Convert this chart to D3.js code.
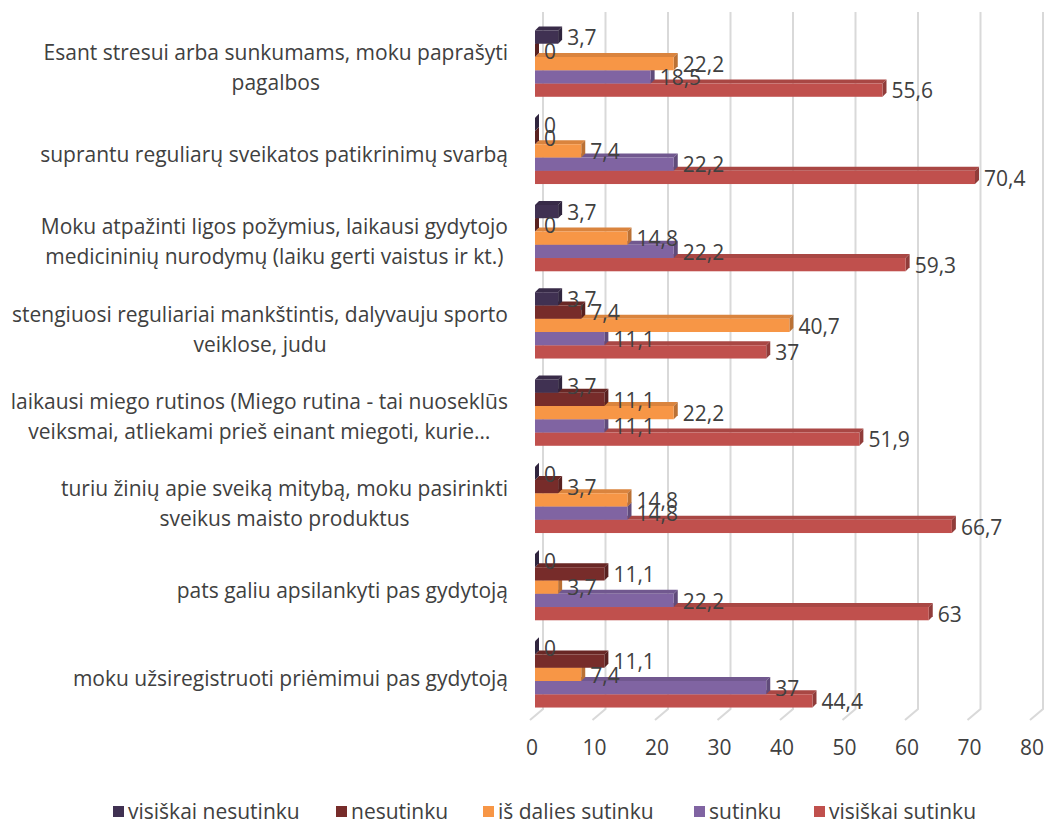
<!DOCTYPE html>
<html>
<head>
<meta charset="utf-8">
<script src="https://cdn.jsdelivr.net/npm/d3@7"></script>
<style>
  body { margin: 0; background: #fff; }
  text { font-family: "Open Sans", sans-serif; fill: #404040; }
</style>
</head>
<body>
<div id="chart"></div>
<script>
// categories, top to bottom (each entry = wrapped lines)
const categories = [
    ["Esant stresui arba sunkumams, moku paprašyti", "pagalbos"],
    ["suprantu reguliarų sveikatos patikrinimų svarbą"],
    ["Moku atpažinti ligos požymius, laikausi gydytojo", "medicininių nurodymų (laiku gerti vaistus ir kt.)"],
    ["stengiuosi reguliariai mankštintis, dalyvauju sporto", "veiklose, judu"],
    ["laikausi miego rutinos (Miego rutina - tai nuoseklūs", "veiksmai, atliekami prieš einant miegoti, kurie…"],
    ["turiu žinių apie sveiką mitybą, moku pasirinkti", "sveikus maisto produktus"],
    ["pats galiu apsilankyti pas gydytoją"],
    ["moku užsiregistruoti priėmimui pas gydytoją"]
];
const seriesNames = ["visiškai nesutinku", "nesutinku", "iš dalies sutinku", "sutinku", "visiškai sutinku"];
const seriesColors = ["#403152", "#772C2A", "#F79646", "#8064A2", "#C0504D"];

const visiskaiNesutinku = [3.7, 0, 3.7, 3.7, 3.7, 0, 0, 0];
const nesutinku = [0, 0, 0, 7.4, 11.1, 3.7, 11.1, 11.1];
const isDaliesSutinku = [22.2, 7.4, 14.8, 40.7, 22.2, 14.8, 3.7, 7.4];
const sutinku = [18.5, 22.2, 22.2, 11.1, 11.1, 14.8, 22.2, 37];
const visiskaiSutinku = [55.6, 70.4, 59.3, 37, 51.9, 66.7, 63, 44.4];
const seriesValues = [visiskaiNesutinku, nesutinku, isDaliesSutinku, sutinku, visiskaiSutinku];

const xTicks = [0, 10, 20, 30, 40, 50, 60, 70, 80];

const width = 1045, height = 825;
const fontSize = "21px";
const svg = d3.select("#chart").append("svg")
    .attr("width", width)
    .attr("height", height);

// 3D look: back wall, bars and floor front are shifted copies of the same scale
const wallShift = { x: 8, y: -8 };
const barDepth = { x: 4, y: -4 };

const x = d3.scaleLinear().domain([0, 80]).range([535, 1035]);
const xLabel = d3.scaleLinear().domain([0, 80]).range([532, 1032]);

const y = d3.scaleBand()
    .domain(d3.range(categories.length))
    .range([20, 718])
    .paddingInner(0.24)
    .paddingOuter(0.12);

const ySeries = d3.scaleBand()
    .domain(d3.range(seriesNames.length))
    .range([0, y.bandwidth()]);

// gridlines on the back wall + floor segment
const grid = svg.append("g");
xTicks.forEach(t => {
    const xb = x(t) + wallShift.x;
    grid.append("polyline")
        .attr("points", `${xb},12 ${xb},709 ${xb - 13},720`)
        .attr("fill", "none")
        .attr("stroke", "#d9d9d9")
        .attr("stroke-width", 2);
});

// x tick labels
svg.append("g").selectAll("text")
    .data(xTicks)
    .enter()
    .append("text")
    .attr("x", d => xLabel(d))
    .attr("y", 748)
    .attr("dy", "0.35em")
    .attr("text-anchor", "middle")
    .style("font-size", fontSize)
    .text(d => d);

// category labels: block right aligned, lines centered in it
const catLayer = svg.append("g");
categories.forEach((lines, i) => {
    const cy = y(i) + y.bandwidth() / 2 + 4;
    const g = catLayer.append("g");
    const lineH = 30;
    const texts = lines.map((ln, k) => g.append("text")
        .attr("y", cy + (k - (lines.length - 1) / 2) * lineH)
        .attr("dy", "0.35em")
        .attr("text-anchor", "middle")
        .style("font-size", fontSize)
        .text(ln));
    const maxW = d3.max(texts, t => t.node().getComputedTextLength());
    texts.forEach(t => t.attr("x", 508 - maxW / 2));
});

// bars, drawn from the bottom series up so upper bars cover the top faces below
const barLayer = svg.append("g");
const fmt = v => String(v).replace(".", ",");
for (let s = seriesNames.length - 1; s >= 0; s--) {
    const col = d3.color(seriesColors[s]);
    const topCol = col.darker(0.35);
    const sideCol = col.darker(0.8);
    seriesValues[s].forEach((v, i) => {
        const y0 = y(i) + ySeries(s);
        const h = ySeries.bandwidth();
        const x0 = x(0), x1 = x(v);
        const g = barLayer.append("g");
        // top face
        g.append("path")
            .attr("d", `M${x0},${y0} L${x0 + barDepth.x},${y0 + barDepth.y} L${x1 + barDepth.x},${y0 + barDepth.y} L${x1},${y0} Z`)
            .attr("fill", topCol);
        // side face
        g.append("path")
            .attr("d", `M${x1},${y0} L${x1 + barDepth.x},${y0 + barDepth.y} L${x1 + barDepth.x},${y0 + h + barDepth.y} L${x1},${y0 + h} Z`)
            .attr("fill", sideCol);
        // front face
        g.append("rect")
            .attr("x", x0)
            .attr("y", y0)
            .attr("width", x1 - x0)
            .attr("height", h)
            .attr("fill", col);
    });
}

// data labels
const labelLayer = svg.append("g");
seriesValues.forEach((vals, s) => {
    vals.forEach((v, i) => {
        labelLayer.append("text")
            .attr("x", x(v) + barDepth.x + 5)
            .attr("y", y(i) + ySeries(s) + ySeries.bandwidth() / 2 + 1)
            .attr("dy", "0.35em")
            .style("font-size", fontSize)
            .text(fmt(v));
    });
});

// legend
const legendX = [113, 336, 483, 694, 814];
const legend = svg.append("g");
seriesNames.forEach((name, s) => {
    legend.append("rect")
        .attr("x", legendX[s])
        .attr("y", 806)
        .attr("width", 11)
        .attr("height", 11)
        .attr("fill", seriesColors[s]);
    legend.append("text")
        .attr("x", legendX[s] + 15)
        .attr("y", 812)
        .attr("dy", "0.35em")
        .style("font-size", fontSize)
        .text(name);
});
</script>
</body>
</html>
